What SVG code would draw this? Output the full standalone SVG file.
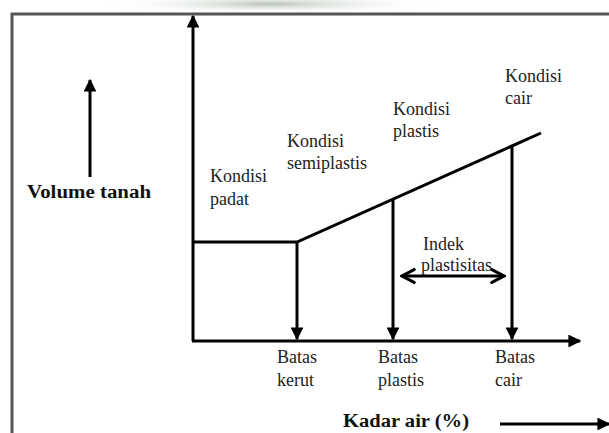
<svg xmlns="http://www.w3.org/2000/svg" width="609" height="433" viewBox="0 0 609 433">
<defs>
<style>
.ln{stroke:#000;stroke-width:3;fill:none}
.t{font-family:"Liberation Serif","Times New Roman",serif;font-size:18px;fill:#222}
.b{font-family:"Liberation Serif","Times New Roman",serif;font-size:18px;font-weight:bold;fill:#111}
</style>
<marker id="ah" viewBox="0 0 10 10" refX="9" refY="5" markerWidth="4.3" markerHeight="4.3" orient="auto" markerUnits="strokeWidth">
<path d="M0,0 L10,5 L0,10 Z" fill="#000"/>
</marker>
<marker id="oh" viewBox="0 0 10 10" refX="9" refY="5" markerWidth="5.4" markerHeight="5.4" orient="auto-start-reverse" markerUnits="strokeWidth">
<path d="M1.5,1 L9,5 L1.5,9" fill="none" stroke="#000" stroke-width="1.9" stroke-linecap="round"/>
</marker>
<radialGradient id="smudge" cx="0.5" cy="0.5" r="0.5">
<stop offset="0" stop-color="#9a9"/>
<stop offset="1" stop-color="#fff" stop-opacity="0"/>
</radialGradient>
</defs>
<rect width="609" height="433" fill="#fff"/>
<ellipse cx="270" cy="4" rx="170" ry="10" fill="url(#smudge)" opacity="0.7"/>
<g id="frame">
<path d="M12,433 V14 H609" stroke="#555" stroke-width="3" fill="none"/>
</g>
<g id="connectors">
<line class="ln" x1="193" y1="341" x2="193" y2="16" marker-end="url(#ah)"/>
<line class="ln" x1="192" y1="341" x2="580" y2="341" marker-end="url(#ah)"/>
<polyline class="ln" points="193,242 297,242 541,133"/>
<line class="ln" x1="297" y1="242" x2="297" y2="339" marker-end="url(#ah)"/>
<line class="ln" x1="393" y1="199" x2="393" y2="339" marker-end="url(#ah)"/>
<line class="ln" x1="512" y1="146" x2="512" y2="339" marker-end="url(#ah)"/>
<line class="ln" x1="402" y1="276" x2="504" y2="276" marker-start="url(#oh)" marker-end="url(#oh)"/>
<line class="ln" x1="90" y1="177" x2="90" y2="80" marker-end="url(#ah)"/>
<line class="ln" x1="500" y1="424" x2="609" y2="424" marker-end="url(#ah)"/>
</g>
<g id="label-volume"><text class="b" x="27" y="198" textLength="124" lengthAdjust="spacingAndGlyphs">Volume tanah</text></g>
<g id="label-padat"><text class="t" x="210" y="182">Kondisi</text><text class="t" x="210" y="205">padat</text></g>
<g id="label-semiplastis"><text class="t" x="287" y="147">Kondisi</text><text class="t" x="287" y="169">semiplastis</text></g>
<g id="label-plastis"><text class="t" x="393" y="115">Kondisi</text><text class="t" x="393" y="137">plastis</text></g>
<g id="label-cair"><text class="t" x="505" y="82">Kondisi</text><text class="t" x="505" y="104">cair</text></g>
<g id="label-indek"><text class="t" x="423" y="250">Indek</text><text class="t" x="421" y="271">plastisitas</text></g>
<g id="label-kerut"><text class="t" x="277" y="363">Batas</text><text class="t" x="277" y="386">kerut</text></g>
<g id="label-bplastis"><text class="t" x="378" y="363">Batas</text><text class="t" x="378" y="386">plastis</text></g>
<g id="label-bcair"><text class="t" x="495" y="363">Batas</text><text class="t" x="495" y="386">cair</text></g>
<g id="label-kadar"><text class="b" x="343" y="427" textLength="126" lengthAdjust="spacingAndGlyphs">Kadar air (%)</text></g>
</svg>
